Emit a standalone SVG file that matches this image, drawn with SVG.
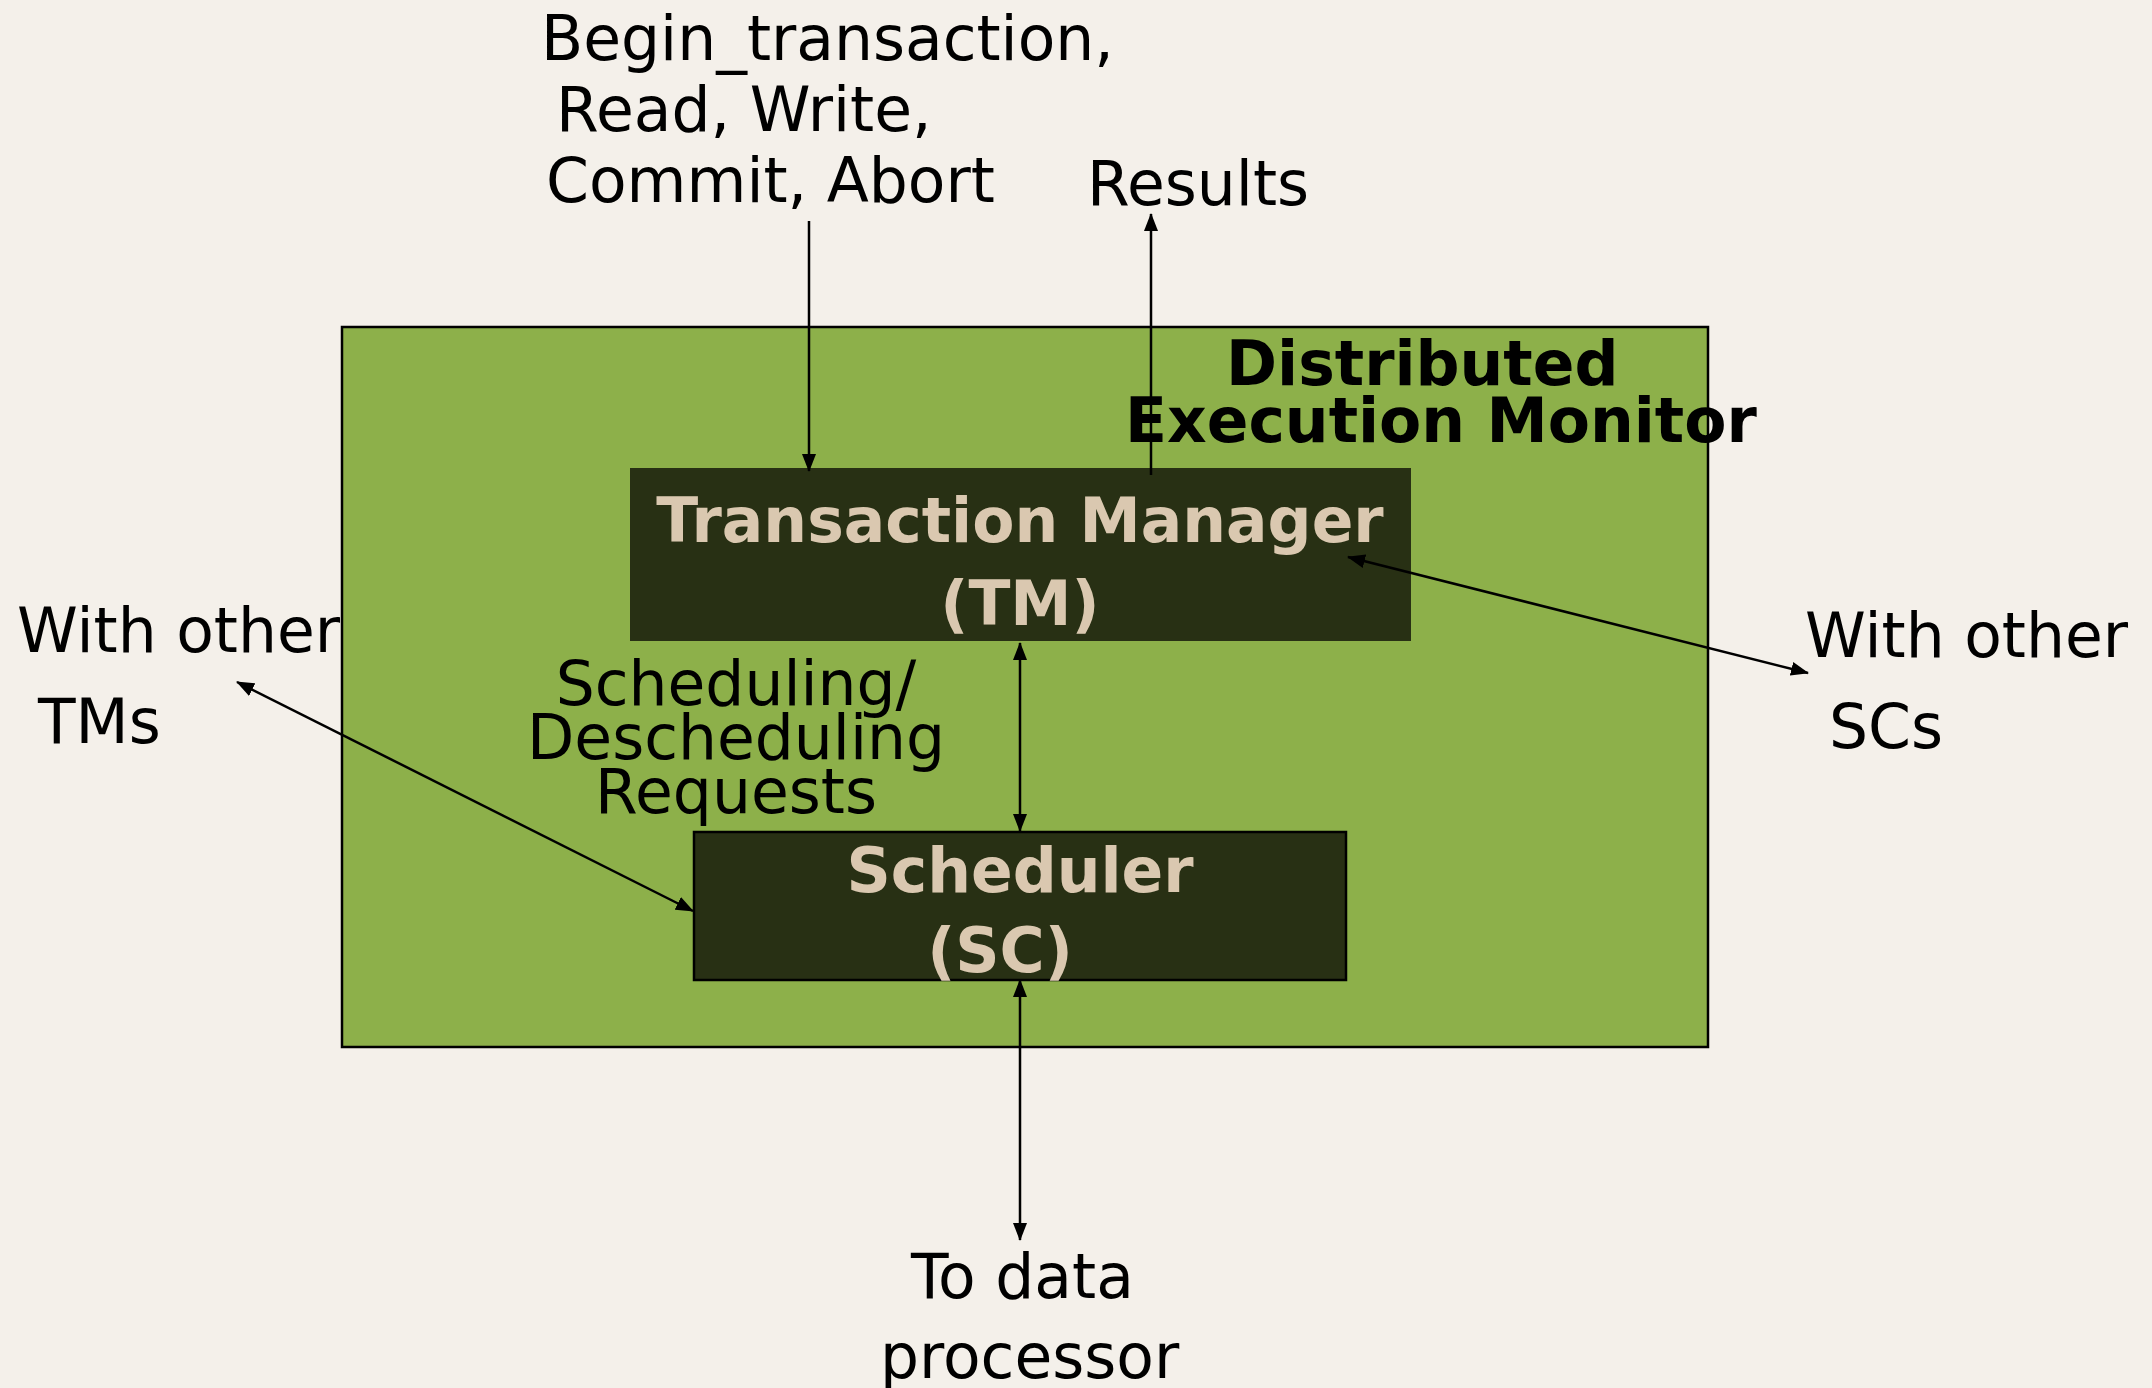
<svg xmlns="http://www.w3.org/2000/svg" width="2152" height="1388" viewBox="0 0 2152 1388">
<defs>
<marker id="ah" viewBox="0 0 18 14" refX="17" refY="7" markerWidth="18" markerHeight="14" markerUnits="userSpaceOnUse" orient="auto-start-reverse">
<path d="M0,0 L18,7 L0,14 Z" fill="#000"/>
</marker>
</defs>
<style>
.t{font-family:"DejaVu Sans","Liberation Sans",sans-serif;font-size:61.5px;fill:#000}
.b{font-family:"DejaVu Sans","Liberation Sans",sans-serif;font-size:61.5px;font-weight:bold}
.tan{fill:#dac8b0}
.c{stroke:#000;stroke-width:2.5;fill:none}
</style>
<rect x="0" y="0" width="2152" height="1388" fill="#f4f0ea"/>
<g id="monitor">
<rect x="342" y="327" width="1366" height="720" fill="#8db04a" stroke="#000" stroke-width="2.5"/>
<text class="b" x="1226" y="385">Distributed</text>
<text class="b" x="1125" y="442">Execution Monitor</text>
</g>
<g id="tm">
<rect x="630" y="468" width="781" height="173" fill="#283014"/>
<text class="b tan" x="1020" y="542" text-anchor="middle">Transaction Manager</text>
<text class="b tan" x="1020" y="625" text-anchor="middle">(TM)</text>
</g>
<g id="sc">
<rect x="694" y="832" width="652" height="148" fill="#283014" stroke="#000" stroke-width="2.5"/>
<text class="b tan" x="1020" y="892" text-anchor="middle">Scheduler</text>
<text class="b tan" x="1000" y="972" text-anchor="middle">(SC)</text>
</g>
<g id="labels">
<text class="t" x="541" y="60">Begin_transaction,</text>
<text class="t" x="556" y="131">Read, Write,</text>
<text class="t" x="546" y="202">Commit, Abort</text>
<text class="t" x="1087" y="205">Results</text>
<text class="t" x="736" y="705" text-anchor="middle">Scheduling/</text>
<text class="t" x="736" y="759" text-anchor="middle">Descheduling</text>
<text class="t" x="736" y="813" text-anchor="middle">Requests</text>
<text class="t" x="17" y="652">With other</text>
<text class="t" x="38" y="743">TMs</text>
<text class="t" x="1805" y="657">With other</text>
<text class="t" x="1829" y="748">SCs</text>
<text class="t" x="911" y="1298">To data</text>
<text class="t" x="880" y="1378">processor</text>
</g>
<g id="connectors">
<line class="c" x1="809" y1="221" x2="809" y2="471" marker-end="url(#ah)"/>
<line class="c" x1="1151" y1="475" x2="1151" y2="214" marker-end="url(#ah)"/>
<line class="c" x1="1020" y1="643" x2="1020" y2="831" marker-start="url(#ah)" marker-end="url(#ah)"/>
<line class="c" x1="1020" y1="980" x2="1020" y2="1240" marker-start="url(#ah)" marker-end="url(#ah)"/>
<line class="c" x1="237" y1="682" x2="693" y2="911" marker-start="url(#ah)" marker-end="url(#ah)"/>
<line class="c" x1="1348" y1="557" x2="1808" y2="673" marker-start="url(#ah)" marker-end="url(#ah)"/>
</g>
</svg>
